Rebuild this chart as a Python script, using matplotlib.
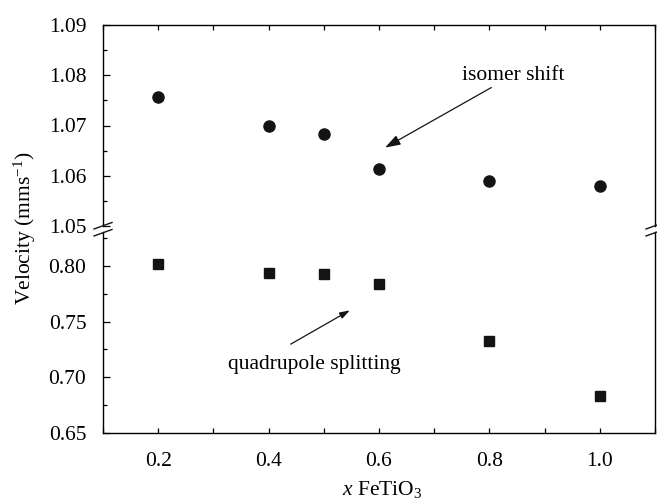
import matplotlib
matplotlib.use("Agg")
import matplotlib.pyplot as plt
from matplotlib.lines import Line2D
from matplotlib.ticker import MultipleLocator, FixedLocator

plt.rcParams['font.family'] = ['Liberation Serif', 'DejaVu Serif']
plt.rcParams['mathtext.fontset'] = 'custom'
plt.rcParams['mathtext.rm'] = 'Liberation Serif'
plt.rcParams['mathtext.it'] = 'Liberation Serif:italic'

# Composition of the FeTiO3 solid solution
x_fetio3 = [0.2, 0.4, 0.5, 0.6, 0.8, 1.0]
# Mossbauer parameters (mm/s)
isomer_shift = [1.0756, 1.0699, 1.0684, 1.0614, 1.0589, 1.0579]
quad_splitting = [0.8013, 0.7934, 0.7925, 0.7835, 0.7322, 0.6835]

x_major = [0.2, 0.4, 0.6, 0.8, 1.0]
x_labels = ['0.2', '0.4', '0.6', '0.8', '1.0']
top_yticks = [1.05, 1.06, 1.07, 1.08, 1.09]
bot_yticks = [0.65, 0.70, 0.75, 0.80]

W, H = 657, 503
fig = plt.figure(figsize=(W / 100, H / 100), dpi=100)

left = 103 / W
width = (655 - 103) / W
ax_top = fig.add_axes([left, 1 - 226 / H, width, (226 - 25) / H])
ax_bot = fig.add_axes([left, 1 - 433 / H, width, (433 - 232) / H])

fs = 15.5
for ax in (ax_top, ax_bot):
    ax.set_xlim(0.1, 1.1)
    ax.xaxis.set_major_locator(FixedLocator(x_major))
    ax.xaxis.set_minor_locator(MultipleLocator(0.1))
    ax.tick_params(which='both', direction='in', right=False, labelsize=fs, width=0.9)
    ax.tick_params(axis='y', which='major', length=5, pad=12)
    ax.tick_params(axis='y', which='minor', length=3.2, pad=12)
    ax.tick_params(axis='x', which='both', length=3.5)
    for s in ax.spines.values():
        s.set_linewidth(1.0)

# Upper panel: isomer shift
ax_top.set_ylim(1.05, 1.09)
ax_top.set_yticks(top_yticks)
ax_top.set_yticklabels([f'{v:.2f}' for v in top_yticks])
ax_top.yaxis.set_minor_locator(MultipleLocator(0.005))
ax_top.spines['bottom'].set_visible(False)
ax_top.tick_params(axis='x', which='both', top=True, bottom=False,
                   labeltop=False, labelbottom=False)
ax_top.plot(x_fetio3, isomer_shift, 'o', color='#141414', markersize=8, linestyle='none')

# Lower panel: quadrupole splitting
ax_bot.set_ylim(0.65, 0.8303)
ax_bot.set_yticks(bot_yticks)
ax_bot.set_yticklabels([f'{v:.2f}' for v in bot_yticks])
ax_bot.yaxis.set_minor_locator(MultipleLocator(0.025))
ax_bot.spines['top'].set_visible(False)
ax_bot.tick_params(axis='x', which='both', top=False, bottom=True, pad=14)
ax_bot.set_xticklabels(x_labels)
ax_bot.plot(x_fetio3, quad_splitting, 's', color='#141414', markersize=6.5, linestyle='none')

# Annotations
ax_top.annotate('isomer shift', xy=(0.611, 1.0656), xytext=(0.750, 1.0800),
                fontsize=fs, ha='left', va='center',
                arrowprops=dict(arrowstyle='-|>,head_length=0.6,head_width=0.2',
                                color='#141414', lw=0.9, shrinkA=0, shrinkB=0))
ax_bot.text(0.483, 0.711, 'quadrupole splitting', fontsize=fs, ha='center', va='center')
ax_bot.annotate('', xy=(0.547, 0.760), xytext=(0.44, 0.7297),
                arrowprops=dict(arrowstyle='-|>,head_length=0.6,head_width=0.2',
                                color='#141414', lw=0.9, shrinkA=0, shrinkB=0))

# Axis break marks on both vertical spines
def brk(x0, x1, y0, y1):
    fig.add_artist(Line2D([x0 / W, x1 / W], [1 - y0 / H, 1 - y1 / H],
                          transform=fig.transFigure, color='#141414', lw=1.0))

for dy in (0, 7):
    brk(94, 112, 229 + dy, 222.5 + dy)
    brk(646, 664, 229 + dy, 222.5 + dy)

fig.text(25 / W, 1 - 228 / H, 'Velocity (mms$^{-1}$)', rotation=90,
         ha='center', va='center', fontsize=fs)
fig.text(382 / W, 1 - 490 / H, '$x$ FeTiO$_3$', ha='center', va='center', fontsize=fs)

fig.savefig('out.png', dpi=100)
